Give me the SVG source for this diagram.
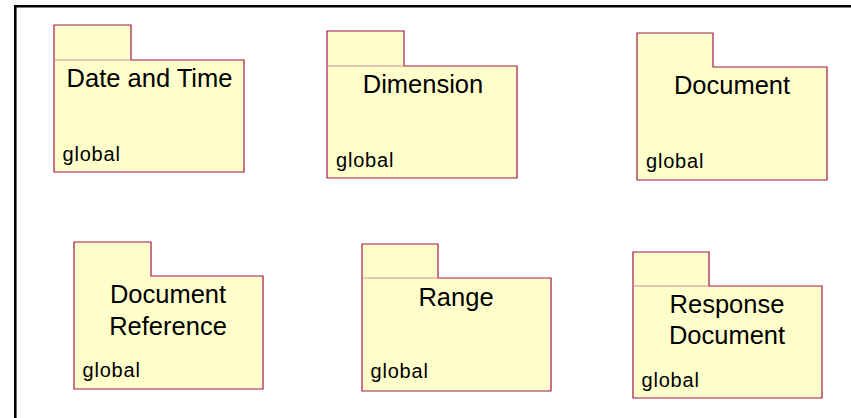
<svg xmlns="http://www.w3.org/2000/svg" width="851" height="418" viewBox="0 0 851 418">
<style>
.pkg{fill:#FFFFCC;stroke:#A3164A;stroke-width:1.2}
.sep{stroke:#D98A9E;stroke-width:1}
.t{font-family:"Liberation Sans",Arial,sans-serif;font-size:25.5px;fill:#000;text-anchor:middle}
.g{font-family:"Liberation Sans",Arial,sans-serif;font-size:20px;letter-spacing:0.8px;fill:#000}
</style>
<rect width="851" height="418" fill="#fff"/>
<path d="M15.3 418 V6.2 H851" fill="none" stroke="#000" stroke-width="2.6"/>
<g id="connectors"/>
<g id="date-and-time">
<path class="pkg" d="M54 25 H131 V60 H244 V172 H54 Z"/>
<line class="sep" x1="54" y1="60" x2="131" y2="60"/>
<text class="t" x="149.5" y="87">Date and Time</text>
<text class="g" x="62.5" y="161">global</text>
</g>
<g id="dimension">
<path class="pkg" d="M327 31 H404 V66 H517 V178 H327 Z"/>
<line class="sep" x1="327" y1="66" x2="404" y2="66"/>
<text class="t" x="423" y="93">Dimension</text>
<text class="g" x="336" y="167">global</text>
</g>
<g id="document">
<path class="pkg" d="M637 33 H713 V67 H827 V180 H637 Z"/>
<text class="t" x="732" y="94">Document</text>
<text class="g" x="646" y="167.5">global</text>
</g>
<g id="document-reference">
<path class="pkg" d="M74 242 H151 V276 H263 V389 H74 Z"/>
<text class="t" x="168" y="303">Document</text>
<text class="t" x="168" y="335">Reference</text>
<text class="g" x="82.5" y="377">global</text>
</g>
<g id="range">
<path class="pkg" d="M362 244 H438 V278 H551 V391 H362 Z"/>
<line class="sep" x1="362" y1="278" x2="438" y2="278"/>
<text class="t" x="456" y="306">Range</text>
<text class="g" x="370.5" y="378">global</text>
</g>
<g id="response-document">
<path class="pkg" d="M633 252 H709 V286 H822 V398 H633 Z"/>
<line class="sep" x1="633" y1="286" x2="709" y2="286"/>
<text class="t" x="727" y="312.5">Response</text>
<text class="t" x="727" y="344">Document</text>
<text class="g" x="641.5" y="386.5">global</text>
</g>
</svg>
